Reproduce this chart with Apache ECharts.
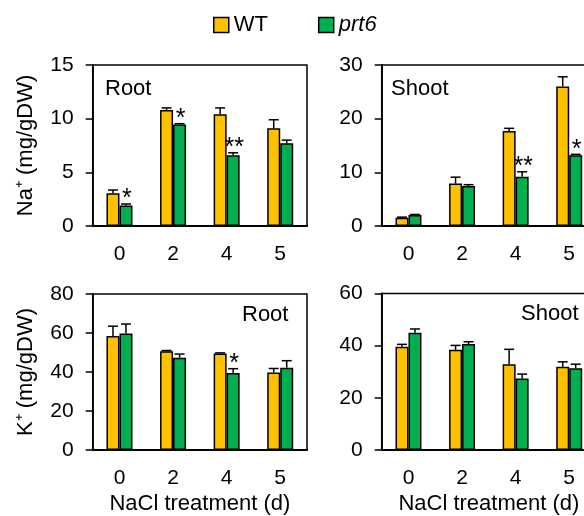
<!DOCTYPE html>
<html>
<head>
<meta charset="utf-8">
<script src="https://cdn.jsdelivr.net/npm/echarts@6/dist/echarts.min.js"></script>
<style>html,body{margin:0;padding:0;background:#fff;overflow:hidden}#c{width:600px;height:516px}</style>
</head>
<body>
<div id="c"></div>
<script>
// ---- data ----
const categories = ['0', '2', '4', '5'];
// Na+ root
const naRootWT = [3.05, 10.8, 10.4, 9.1];
const naRootWTErr = [0.3, 0.2, 0.6, 0.8];
const naRootPrt6 = [1.9, 9.45, 6.6, 7.7];
const naRootPrt6Err = [0.15, 0.08, 0.22, 0.3];
const naRootStars = ['*', '*', '**', ''];
// Na+ shoot
const naShootWT = [1.55, 7.9, 17.7, 26.0];
const naShootWTErr = [0.1, 1.2, 0.5, 1.8];
const naShootPrt6 = [2.05, 7.45, 9.2, 13.2];
const naShootPrt6Err = [0.1, 0.25, 0.9, 0.15];
const naShootStars = ['', '', '**', '*'];
// K+ root
const kRootWT = [58.5, 50.7, 49.5, 39.8];
const kRootWTErr = [5.0, 0.3, 0.3, 2.0];
const kRootPrt6 = [59.8, 47.3, 39.5, 42.2];
const kRootPrt6Err = [4.8, 1.9, 2.2, 3.6];
const kRootStars = ['', '', '*', ''];
// K+ shoot
const kShootWT = [39.6, 38.4, 32.9, 31.9];
const kShootWTErr = [0.9, 1.7, 5.7, 1.9];
const kShootPrt6 = [45.0, 40.6, 27.4, 31.3];
const kShootPrt6Err = [1.4, 0.9, 1.7, 1.6];
const kShootStars = ['', '', '', ''];
// axes
const naRootMax = 15, naRootStep = 5;
const naShootMax = 30, naShootStep = 10;
const kRootMax = 80, kRootStep = 20;
const kShootMax = 60, kShootStep = 20;

// ---- styling ----
const FONT = '"Liberation Sans", Arial, sans-serif';
const WT_COLOR = '#FFC000';
const PRT_COLOR = '#00B050';
const BAR_W = 13;

const grids = [
  {left: 92.7, top: 65, width: 214.3, height: 161},
  {left: 381.7, top: 65, width: 214.3, height: 161},
  {left: 92.7, top: 294, width: 214.3, height: 156},
  {left: 381.7, top: 293.5, width: 214.3, height: 156.5}
].map(g => Object.assign({show: true, borderColor: '#000', borderWidth: 1.5, backgroundColor: 'transparent', containLabel: false}, g));

function xAx(i, withName) {
  return {
    type: 'category', gridIndex: i, data: categories,
    axisLine: {lineStyle: {color: '#000', width: 1.8}},
    axisTick: {show: false},
    axisLabel: {color: '#000', fontSize: 21, fontFamily: FONT, margin: 18},
    name: withName ? 'NaCl treatment (d)' : '',
    nameLocation: 'middle', nameGap: 43,
    nameTextStyle: {color: '#000', fontSize: 22, fontFamily: FONT}
  };
}
function yAx(i, max, step, name) {
  return {
    type: 'value', gridIndex: i, min: 0, max: max, interval: step,
    axisLine: {show: true, lineStyle: {color: '#000', width: 1.8}},
    axisTick: {show: true, inside: false, length: 7, lineStyle: {color: '#000', width: 1.5}},
    splitLine: {show: false},
    axisLabel: {color: '#000', fontSize: 21, fontFamily: FONT, margin: 19},
    name: name || '', nameLocation: 'middle', nameRotate: 90, nameGap: 56,
    nameTextStyle: {color: '#000', fontSize: 22, fontFamily: FONT}
  };
}
function bar(i, name, data, color) {
  return {
    type: 'bar', name: name, xAxisIndex: i, yAxisIndex: i, data: data,
    barWidth: BAR_W, barGap: '0%',
    itemStyle: {color: color, borderColor: '#000', borderWidth: 1.5},
    emphasis: {disabled: true}, z: 2
  };
}
function err(i, vals, errs, offset, stars) {
  return {
    type: 'custom', xAxisIndex: i, yAxisIndex: i, z: 10, silent: true,
    data: vals.map((v, k) => [k, v, errs[k]]),
    encode: {x: 0, y: 1},
    renderItem: function (params, api) {
      const k = api.value(0), v = api.value(1), e = api.value(2);
      const b = api.coord([k, v]);
      const t = api.coord([k, v + e]);
      const x = b[0] + offset;
      const ls = {stroke: '#000', lineWidth: 1.5};
      const ch = [
        {type: 'line', shape: {x1: x, y1: b[1], x2: x, y2: t[1]}, style: ls},
        {type: 'line', shape: {x1: x - 5, y1: t[1], x2: x + 5, y2: t[1]}, style: ls}
      ];
      const s = stars ? stars[params.dataIndex] : '';
      if (s) {
        ch.push({type: 'text', x: x + 1, y: t[1] + 8,
          style: {text: s, fill: '#000', font: '25px ' + FONT, textAlign: 'center', textVerticalAlign: 'bottom'}});
      }
      return {type: 'group', children: ch};
    }
  };
}

const series = [
  bar(0, 'WT', naRootWT, WT_COLOR), bar(0, 'prt6', naRootPrt6, PRT_COLOR),
  bar(1, 'WT', naShootWT, WT_COLOR), bar(1, 'prt6', naShootPrt6, PRT_COLOR),
  bar(2, 'WT', kRootWT, WT_COLOR), bar(2, 'prt6', kRootPrt6, PRT_COLOR),
  bar(3, 'WT', kShootWT, WT_COLOR), bar(3, 'prt6', kShootPrt6, PRT_COLOR),
  err(0, naRootWT, naRootWTErr, -BAR_W / 2), err(0, naRootPrt6, naRootPrt6Err, BAR_W / 2, naRootStars),
  err(1, naShootWT, naShootWTErr, -BAR_W / 2), err(1, naShootPrt6, naShootPrt6Err, BAR_W / 2, naShootStars),
  err(2, kRootWT, kRootWTErr, -BAR_W / 2), err(2, kRootPrt6, kRootPrt6Err, BAR_W / 2, kRootStars),
  err(3, kShootWT, kShootWTErr, -BAR_W / 2), err(3, kShootPrt6, kShootPrt6Err, BAR_W / 2, kShootStars)
];

const panelText = (txt, opts) => Object.assign({type: 'text', style: {text: txt, fill: '#000', font: '22px ' + FONT}}, opts);

const option = {
  animation: false,
  backgroundColor: '#fff',
  legend: {
    data: ['WT', 'prt6'], left: 213, top: 14, padding: 0, itemWidth: 15, itemHeight: 15, itemGap: 50,
    icon: 'rect',
    itemStyle: {borderColor: '#000', borderWidth: 1.5},
    textStyle: {color: '#000', fontSize: 22, fontFamily: FONT, rich: {i: {fontStyle: 'italic', fontSize: 22, fontFamily: FONT, color: '#000'}}},
    formatter: n => n === 'prt6' ? '{i|prt6}' : n
  },
  grid: grids,
  xAxis: [xAx(0, false), xAx(1, false), xAx(2, true), xAx(3, true)],
  yAxis: [
    yAx(0, naRootMax, naRootStep, 'Na\u207A (mg/gDW)'),
    yAx(1, naShootMax, naShootStep, ''),
    yAx(2, kRootMax, kRootStep, 'K\u207A (mg/gDW)'),
    yAx(3, kShootMax, kShootStep, '')
  ],
  graphic: [
    panelText('Root', {left: 105, top: 78}),
    panelText('Shoot', {left: 391, top: 78}),
    panelText('Root', {left: 242, top: 304}),
    panelText('Shoot', {left: 521, top: 303})
  ],
  series: series
};
const chart = echarts.init(document.getElementById('c'), null, {renderer: 'canvas'});
chart.setOption(option);
</script>
</body>
</html>
